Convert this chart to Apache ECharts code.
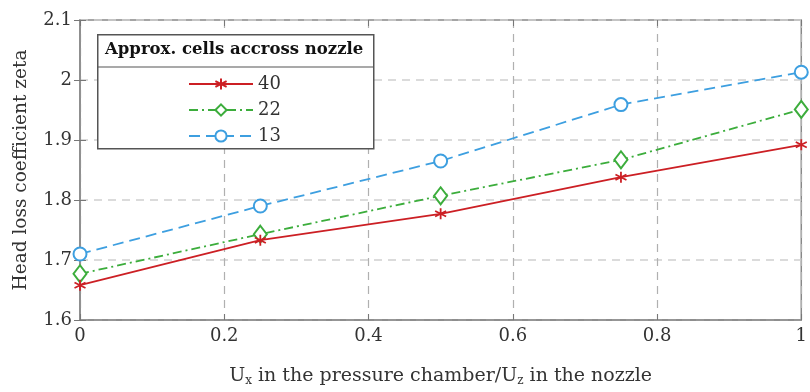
<!DOCTYPE html>
<html>
<head>
<meta charset="utf-8">
<script src="https://cdn.jsdelivr.net/npm/echarts@6/dist/echarts.min.js"></script>
<style>html,body{margin:0;padding:0;background:#fff}#c{width:810px;height:392px}</style>
</head>
<body>
<div id="c"></div>
<script>
var xValues = [0, 0.25, 0.5, 0.75, 1];
var cells40 = [1.658, 1.733, 1.777, 1.838, 1.892];
var cells22 = [1.677, 1.743, 1.807, 1.867, 1.951];
var cells13 = [1.710, 1.790, 1.865, 1.959, 2.013];
var seriesNames = ['40', '22', '13'];
var legendTitle = 'Approx. cells accross nozzle';
var yAxisTitle = 'Head loss coefficient zeta';

function pairs(ys) { return xValues.map(function (x, i) { return [x, ys[i]]; }); }

var FONT = 'DejaVu Serif';
var asterisk = 'path://M0,-6L0,6M-5.2,-3L5.2,3M-5.2,3L5.2,-3';

var chart = echarts.init(document.getElementById('c'), null, { renderer: 'canvas' });
var tickStyle = { show: true, inside: true, length: 6, lineStyle: { color: '#777', width: 1 } };
chart.setOption({
  animation: false,
  textStyle: { fontFamily: FONT },
  grid: { left: 80, right: 1, top: 20, bottom: 70, show: true, borderColor: '#888', borderWidth: 1.5 },
  xAxis: [{
    type: 'value', min: 0, max: 1, interval: 0.2,
    axisLine: { show: true, lineStyle: { color: '#888', width: 1.5 } },
    axisTick: tickStyle,
    axisLabel: { color: '#333', fontSize: 18, fontFamily: FONT, margin: 7 },
    splitLine: { show: true, lineStyle: { color: '#b0b0b0', type: [8, 6], width: 1.2 } },
    name: '{a|U}{s|x}{a| in the pressure chamber/U}{s|z}{a| in the nozzle}',
    nameLocation: 'middle', nameGap: 45,
    nameTextStyle: { rich: {
      a: { fontSize: 19, fontFamily: FONT, color: '#333' },
      s: { fontSize: 12, fontFamily: FONT, color: '#333', verticalAlign: 'bottom', padding: [10, 0, 0, 0] }
    } }
  }, {
    type: 'value', min: 0, max: 1, interval: 0.2, position: 'top',
    axisLine: { show: false }, axisTick: tickStyle, axisLabel: { show: false }, splitLine: { show: false }
  }],
  yAxis: [{
    type: 'value', min: 1.6, max: 2.1, interval: 0.1,
    axisLine: { show: true, lineStyle: { color: '#888', width: 1.5 } },
    axisTick: tickStyle,
    axisLabel: { color: '#333', fontSize: 18, fontFamily: FONT, margin: 8,
      formatter: function (v) { return String(Math.round(v * 10) / 10); } },
    splitLine: { show: true, lineStyle: { color: '#d0d0d0', type: [8, 6], width: 1.5 } },
    name: yAxisTitle, nameLocation: 'middle', nameGap: 49,
    nameTextStyle: { fontSize: 18.5, fontFamily: FONT, color: '#333' }
  }, {
    type: 'value', min: 1.6, max: 2.1, interval: 0.1, position: 'right',
    axisLine: { show: false }, axisTick: tickStyle, axisLabel: { show: false }, splitLine: { show: false }
  }],
  legend: {
    z: 20, orient: 'vertical', left: 188, top: 75, padding: 0,
    itemWidth: 64, itemHeight: 14, itemGap: 8,
    textStyle: { fontSize: 18, fontFamily: FONT, color: '#333' },
    data: seriesNames
  },
  graphic: [
    { type: 'rect', left: 97, top: 34, shape: { width: 276, height: 114 }, z: 5,
      style: { fill: '#fff', stroke: '#555', lineWidth: 1.5 } },
    { type: 'line', z: 6, shape: { x1: 97, y1: 67, x2: 373, y2: 67 }, style: { stroke: '#555', lineWidth: 1.2 } },
    { type: 'text', z: 6, left: 105, top: 41,
      style: { text: legendTitle, font: 'bold 16.5px "DejaVu Serif"', fill: '#111' } }
  ],
  series: [{
    name: seriesNames[0], type: 'line', data: pairs(cells40),
    symbol: asterisk, symbolSize: 11, showAllSymbol: true,
    lineStyle: { color: '#cc1f24', width: 1.8 },
    itemStyle: { color: '#cc1f24', borderColor: '#cc1f24', borderWidth: 1.8 }, z: 4
  }, {
    name: seriesNames[1], type: 'line', data: pairs(cells22),
    symbol: 'emptyDiamond', symbolSize: [13, 17],
    lineStyle: { color: '#3cad3c', width: 1.8, type: [9, 4, 2, 4] },
    itemStyle: { color: '#3cad3c', borderColor: '#3cad3c', borderWidth: 1.5 }, z: 3
  }, {
    name: seriesNames[2], type: 'line', data: pairs(cells13),
    symbol: 'emptyCircle', symbolSize: 13,
    lineStyle: { color: '#3d9fe0', width: 1.8, type: [11, 6] },
    itemStyle: { color: '#3d9fe0', borderColor: '#3d9fe0', borderWidth: 1.5 }, z: 2
  }]
});
</script>
</body>
</html>
